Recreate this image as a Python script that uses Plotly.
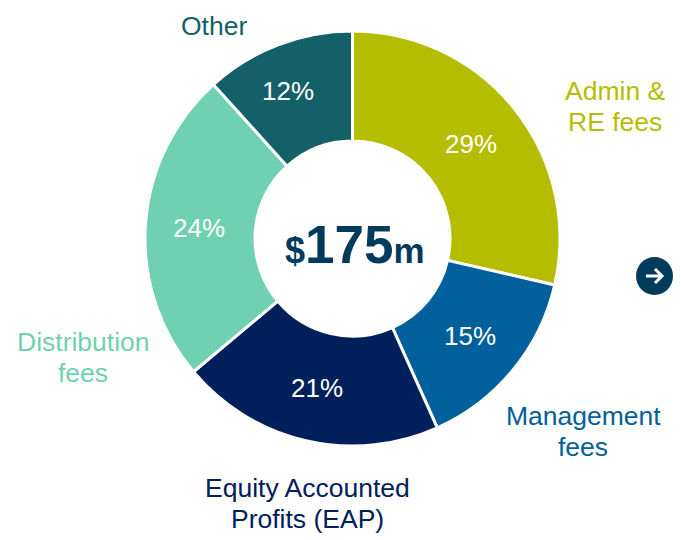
import plotly.graph_objects as go

categories = ["Admin & RE fees", "Management fees", "Equity Accounted Profits (EAP)", "Distribution fees", "Other"]
values = [28.6, 14.7, 20.6, 24.4, 11.7]
pct_labels = ["29%", "15%", "21%", "24%", "12%"]
colors = ["#B5BD00", "#00609C", "#00205B", "#6FD0B2", "#136068"]
label_lines = [["Admin &", "RE fees"], ["Management", "fees"], ["Equity Accounted", "Profits (EAP)"], ["Distribution", "fees"], ["Other"]]
total_pre, total_num, total_suf = "$", "175", "m"
W, H = 681, 540

# placement of the text, in pixels of the page
LINE_POS = [[(615, 91), (615, 122)], [(583, 416), (583, 447)], [(307, 488), (307, 519)], [(83, 342), (83, 373)], [(214, 26)]]
PCT_POS = [(471, 144), (470, 336), (317, 388), (199, 228), (288, 91)]

fig = go.Figure(go.Pie(
    values=values, labels=categories, sort=False, direction="clockwise", rotation=0,
    hole=0.47, marker=dict(colors=colors, line=dict(color="white", width=3)),
    textinfo="none", showlegend=False,
    domain=dict(x=[145/W, 560/W], y=[1-447/H, 1-30/H]),
))
anns = []
def add(text, x, y, size, color):
    anns.append(dict(text=text, x=x/W, y=1-y/H, xref="paper", yref="paper", showarrow=False,
                     font=dict(family="Liberation Sans", size=size, color=color), align="center",
                     xanchor="center", yanchor="middle"))
for lines, positions, color in zip(label_lines, LINE_POS, colors):
    for t, (x, y) in zip(lines, positions):
        add(t, x, y, 26.5, color)
for t, (x, y) in zip(pct_labels, PCT_POS):
    add(t, x, y, 26, "white")
add(f"<b><span style='font-size:36px'>{total_pre}</span><span style='font-size:53px'>{total_num}</span><span style='font-size:35px'>{total_suf}</span></b>",
    355, 244, 35, "#003A5D")
px, py = (lambda v: v/W), (lambda v: 1-v/H)
arrow = f"M {px(646)} {py(276)} L {px(662)} {py(276)} M {px(655)} {py(269)} L {px(662)} {py(276)} L {px(655)} {py(283)}"
fig.update_layout(width=W, height=H, margin=dict(l=0, r=0, t=0, b=0), paper_bgcolor="white",
                  annotations=anns,
                  shapes=[dict(type="circle", xref="paper", yref="paper", x0=636/W, x1=673/W,
                               y0=1-295/H, y1=1-257/H, fillcolor="#003A5D", line=dict(width=0)),
                          dict(type="path", xref="paper", yref="paper", path=arrow,
                               line=dict(color="white", width=3))])
fig.write_html("out.html", post_script="document.body.style.margin='0';", config=dict(displayModeBar=False))
